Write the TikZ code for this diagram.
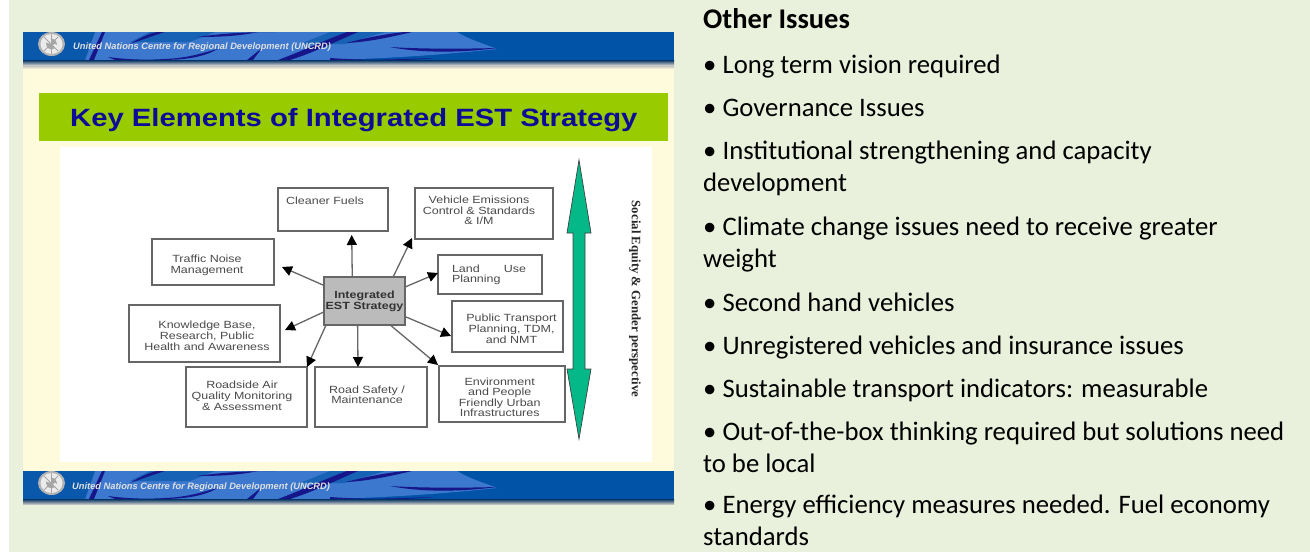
\documentclass[tikz,border=0pt]{standalone}
\usepackage{fontspec}
\usetikzlibrary{arrows.meta}
\setmainfont{Liberation Sans}
\newfontfamily\boxfont[FakeStretch=1.2]{Liberation Sans}
\newfontfamily\titlefont[FakeStretch=1.17]{Liberation Sans}
\newfontfamily\notefont{Carlito}
\newfontfamily\sidefont{Liberation Serif}
\definecolor{pagebg}{HTML}{E9F0DC}
\definecolor{cream}{HTML}{FDFBDC}
\definecolor{titlebar}{HTML}{99CC00}
\definecolor{titleink}{HTML}{0C0C96}
\definecolor{bandblue}{HTML}{0053A6}
\definecolor{bandlight}{HTML}{3B78CE}
\definecolor{bandnavy}{HTML}{16168A}
\definecolor{boxline}{HTML}{666666}
\definecolor{boxink}{HTML}{4A4A4A}
\definecolor{coregray}{HTML}{BBBBBB}
\definecolor{gogreen}{HTML}{05B888}
% text inside a box: dx, dy from the box centre, optional line stretch
\newcommand{\placetxt}[4][1]{\raisebox{\dimexpr#3pt-4.5pt\relax}[0pt][0pt]{\makebox[0pt]{\hspace*{#2pt}\hspace*{#2pt}\renewcommand{\arraystretch}{#1}\begin{tabular}{@{}c@{}}#4\end{tabular}}}}
\tikzset{
  boxn/.style={draw=boxline,line width=1.2pt,fill=white,inner sep=0pt,outer sep=0pt,text=boxink,
    font=\boxfont\fontsize{10.4}{11}\selectfont},
  corebox/.style={boxn,fill=coregray,text=black!80,font=\boxfont\bfseries\fontsize{10.4}{11}\selectfont},
  linkarrow/.style={draw=boxline,line width=1.3pt,-{Triangle[length=10pt,width=10pt,black]}},
  noteline/.style={anchor=base west,inner sep=0pt,align=left,text=black,
    font=\notefont\fontsize{26.7}{32}\selectfont},
  bandtext/.style={anchor=base west,inner sep=0pt,text=black!12,
    font=\bfseries\itshape\fontsize{9.3}{11}\selectfont},
  navy/.style={fill=bandnavy,draw=none},
}
\newcommand{\drawband}[1]{%
  \begin{scope}[shift={(0,#1)}]
    \fill[bandblue] (23,0) rectangle (674,28);
    \fill[bandlight] (23,0) -- (457,0) .. controls (470,8) and (485,12) .. (497,17)
      .. controls (450,22) and (400,26) .. (330,28) -- (23,28) -- cycle;
    \fill[bandblue!85!bandlight] (23,0) -- (95,0) -- (85,28) -- (23,28) -- cycle;
    \fill[bandblue!60!bandlight] (150,0) -- (215,0) -- (190,10) -- (130,10) -- cycle;
    \fill[bandblue!60!bandlight] (330,0) -- (385,0) -- (345,12) -- (300,12) -- cycle;
    \fill[navy] (102,0) -- (105,0) -- (94,28) -- (89,28) -- cycle;
    \fill[navy] (157,0) .. controls (148,2) and (140,6) .. (130,12) .. controls (142,8) and (152,4) .. (165,0) -- cycle;
    \fill[navy] (197,5) .. controls (225,1) and (250,0) .. (275,0) -- (258,0) .. controls (240,4) and (220,5) .. (197,5) -- cycle;
    \fill[navy] (108,25) .. controls (130,28) and (150,28) .. (165,27) .. controls (190,26) and (205,20) .. (218,17)
      .. controls (205,24) and (190,28) .. (160,28) -- (115,28) -- cycle;
    \fill[navy] (247,28) -- (262,16) -- (253,28) -- cycle;
    \fill[navy] (278,28) .. controls (300,20) and (325,8) .. (347,0) -- (358,0) .. controls (335,10) and (310,22) .. (290,28) -- cycle;
    \fill[navy] (346,11) .. controls (365,6) and (385,2) .. (405,0) -- (412,0) .. controls (395,4) and (370,10) .. (346,11) -- cycle;
    \fill[navy] (390,15) .. controls (420,17) and (460,17) .. (497,16) .. controls (460,21) and (420,21) .. (390,15) -- cycle;
    \fill[navy] (330,26) .. controls (370,29) and (400,27) .. (435,26) .. controls (400,29) and (370,29) .. (330,28) -- cycle;
    \fill[gray!60] (38,5) ++(13.5,7) circle[x radius=13.5,y radius=12];
    \fill[white!92!black] (51.5,12) circle[x radius=11,y radius=10];
    \fill[gray!70] (51.5,12) circle[x radius=5.5,y radius=5.5];
    \fill[white!92!black] (49,9) circle[radius=2.5];
    \fill[white!92!black] (55,14) circle[radius=2];
    \draw[gray!70,line width=.8pt] (44,5) -- (58,19) (44,19) -- (58,5) (51.5,2) -- (51.5,22);
  \end{scope}}
\begin{document}
\begin{tikzpicture}[x=1pt,y=-1pt]
\useasboundingbox (0,0) rectangle (1310,552);
\fill[white] (0,0) rectangle (1310,552);
\fill[pagebg] (9,0) rectangle (1310,552);
% slide
\fill[cream] (23,60) rectangle (674,471);
\drawband{32}
\drawband{471}
\shade[top color=bandblue!60!black,bottom color=gray!45] (23,60) rectangle (674,65);
\fill[gray!45] (23,65) -- (674,65) -- (674,66) -- (23,66) -- cycle;
\shade[top color=gray!45,bottom color=cream] (23,66) rectangle (674,69);
\shade[top color=bandblue!60!black,bottom color=gray!50] (23,499) rectangle (674,504);
\fill[titlebar] (39,93) rectangle (668,141);
\fill[white] (60,147) rectangle (652,462);
\node[bandtext] (bandtop) at (73,49) {United Nations Centre for Regional Development (UNCRD)};
\node[bandtext] (bandbottom) at (72,489) {United Nations Centre for Regional Development (UNCRD)};
\node[anchor=base west,inner sep=0pt,text=titleink,font=\titlefont\bfseries\fontsize{25}{28}\selectfont] (slidetitle) at (70,126.5) {Key Elements of Integrated EST Strategy};
% boxes
\node[corebox,minimum width=81pt,minimum height=48pt] (core) at (364.5,301) {\placetxt[.95]{0}{1}{Integrated\\EST Strategy}};
\node[boxn,minimum width=110pt,minimum height=43pt] (cleaner) at (333,209.5) {\placetxt{-8}{8.8}{Cleaner Fuels}};
\node[boxn,minimum width=122pt,minimum height=46pt] (traffic) at (213,262) {\placetxt{-6}{-2}{Traffic Noise\\Management}};
\node[boxn,minimum width=151pt,minimum height=57pt] (knowledge) at (204.5,333.5) {\placetxt{2.5}{-1.5}{Knowledge Base,\\Research, Public\\Health and Awareness}};
\node[boxn,minimum width=121pt,minimum height=60pt] (roadside) at (246.5,397) {\placetxt{-4.5}{1.3}{Roadside Air\\Quality Monitoring\\\& Assessment}};
\node[boxn,minimum width=112pt,minimum height=60pt] (safety) at (371,397) {\placetxt[.88]{-4}{3}{Road Safety /\\Maintenance}};
\node[boxn,minimum width=138pt,minimum height=51pt] (vehicle) at (484,213.5) {\placetxt[.88]{-5}{3.5}{Vehicle Emissions\\Control \& Standards\\\& I/M}};
\node[boxn,minimum width=104pt,minimum height=39pt] (land) at (490,274.5) {\placetxt[.88]{-1}{1.5}{\makebox[74pt]{Land\hfill Use}\\\makebox[74pt][l]{Planning}}};
\node[boxn,minimum width=111pt,minimum height=51pt] (public) at (507.5,326.5) {\placetxt{4}{-1.5}{Public Transport\\Planning, TDM,\\and NMT}};
\node[boxn,minimum width=126pt,minimum height=56pt] (env) at (502,394) {\placetxt[.87]{-2.3}{-2.7}{Environment\\and People\\Friendly Urban\\Infrastructures}};
% arrow tips
\coordinate (tipcleaner) at (351.7,235);
\coordinate (tiptraffic) at (282,267);
\coordinate (tipknowledge) at (285,330);
\coordinate (tiproadside) at (307,367);
\coordinate (tipsafety) at (358,367);
\coordinate (tipvehicle) at (412,238);
\coordinate (tipland) at (438,273);
\coordinate (tippublic) at (451,336);
\coordinate (tipenv) at (438,365);
\draw[linkarrow] (core.117.5) -- (tipcleaner);
\draw[linkarrow] (core.159.7) -- (tiptraffic);
\draw[linkarrow] (core.195.2) -- (tipknowledge);
\draw[linkarrow] (core.212) -- (tiproadside);
\draw[linkarrow] (core.254.8) -- (tipsafety);
\draw[linkarrow] (core.40.1) -- (tipvehicle);
\draw[linkarrow] (core.19) -- (tipland);
\draw[linkarrow] (core.-21.6) -- (tippublic);
\draw[linkarrow] (core.-43.3) -- (tipenv);
% double arrow
\draw[fill=gogreen,draw=black!75,line width=.7pt,line join=miter]
  (579,160) -- (591,233) -- (585,233) -- (585,369) -- (591,369) -- (579,439)
  -- (567,369) -- (573,369) -- (573,233) -- (567,233) -- cycle;
\node[rotate=-90,inner sep=0pt,text=black!85,font=\sidefont\bfseries\fontsize{12.8}{14}\selectfont] (side) at (635,299) {Social Equity \& Gender perspective};
% right column
\node[noteline,font=\notefont\bfseries\fontsize{28.5}{32}\selectfont] (n0) at (703,28) {Other Issues};
\node[noteline] (n1) at (703,73) {• Long term vision required};
\node[noteline] (n2) at (703,116) {• Governance Issues};
\node[noteline] (n3) at (703,191) {• Institutional strengthening and capacity\\development};
\node[noteline] (n4) at (703,267) {• Climate change issues need to receive greater\\weight};
\node[noteline] (n5) at (703,311) {• Second hand vehicles};
\node[noteline] (n6) at (703,354) {• Unregistered vehicles and insurance issues};
\node[noteline] (n7) at (703,397) {• Sustainable transport indicators: measurable};
\node[noteline] (n8) at (703,472) {• Out-of-the-box thinking required but solutions need\\to be local};
\node[noteline] (n9) at (703,545.5) {• Energy efficiency measures needed. Fuel economy\\standards};
\end{tikzpicture}
\end{document}
